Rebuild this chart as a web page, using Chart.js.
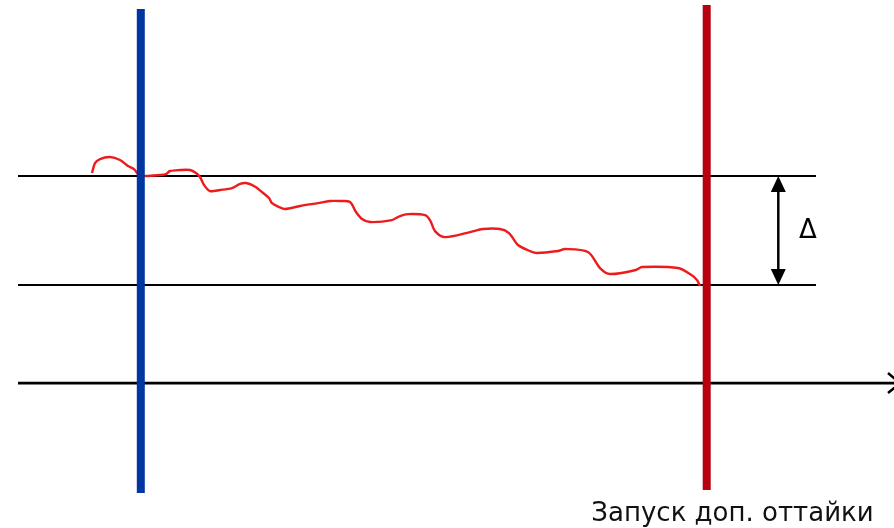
<!DOCTYPE html>
<html>
<head>
<meta charset="utf-8">
<script src="https://cdn.jsdelivr.net/npm/chart.js@4"></script>
<style>
  html, body { margin: 0; padding: 0; background: #fff; }
  #wrap { width: 894px; height: 528px; }
</style>
</head>
<body>
<div id="wrap"><canvas id="chart" width="894" height="528"></canvas></div>
<script>
// time (x) and temperature-like value (y)
const curveTime = [9.2, 9.5, 10.0, 11.0, 12.0, 12.8, 13.4, 13.8, 14.5, 16.0, 16.6, 17.0, 18.0, 19.0, 19.6, 20.0,
  20.4, 21.0, 22.0, 23.2, 24.0, 24.6, 25.4, 26.2, 26.9, 27.2, 27.9, 28.5, 30.0, 31.8, 33.0, 34.0, 35.0, 35.6,
  36.2, 37.0, 39.2, 40.0, 40.8, 42.5, 43.0, 43.5, 44.5, 47.0, 48.3, 50.0, 50.9, 51.8, 53.0, 53.7, 55.8, 56.5,
  58.8, 60.0, 61.0, 63.6, 64.2, 67.8, 69.0, 69.7, 70.0];
const curveValue = [19.27, 20.18, 20.55, 20.73, 20.46, 19.91, 19.63, 19.17, 18.99, 19.08, 19.17, 19.45, 19.54, 19.54, 19.27, 18.90,
  18.17, 17.61, 17.71, 17.89, 18.26, 18.35, 18.07, 17.52, 16.97, 16.51, 16.15, 15.96, 16.24, 16.51, 16.70, 16.70, 16.61, 15.69,
  15.05, 14.77, 14.95, 15.32, 15.50, 15.41, 14.95, 13.94, 13.39, 13.85, 14.13, 14.13, 13.76, 12.66, 12.11, 11.93, 12.11, 12.29,
  12.02, 10.55, 10.00, 10.37, 10.64, 10.55, 10.00, 9.45, 8.90];

const upperLevel = 19;
const lowerLevel = 9;
const levelSpan = [1.8, 81.6];
const axisSpan = [1.8, 89.4];
const startTime = 14.08;      // blue marker
const startSpan = [34.31, -10.09];
const defrostTime = 70.67;    // red marker
const defrostSpan = [34.68, -9.82];
const deltaLabel = 'Δ';
const defrostLabel = 'Запуск доп. оттайки';

const curvePoints = curveTime.map((t, i) => ({ x: t, y: curveValue[i] }));
const seg = (xs, ys) => [{ x: xs[0], y: ys[0] }, { x: xs[1], y: ys[1] }];

const annotations = {
  id: 'annotations',
  afterDatasetsDraw(chart) {
    const ctx = chart.ctx;
    const xs = chart.scales.x, ys = chart.scales.y;
    ctx.save();
    // axis arrow head (partly off canvas)
    const ax = xs.getPixelForValue(axisSpan[1]);
    const ay = ys.getPixelForValue(0);
    ctx.strokeStyle = '#000';
    ctx.lineWidth = 2.5;
    ctx.beginPath();
    ctx.moveTo(ax - 6, ay - 10);
    ctx.lineTo(ax + 6, ay);
    ctx.lineTo(ax - 6, ay + 10);
    ctx.stroke();

    // delta arrow between the two levels
    const dx = xs.getPixelForValue(77.83);
    const top = ys.getPixelForValue(upperLevel);
    const bot = ys.getPixelForValue(lowerLevel);
    ctx.lineWidth = 2.5;
    ctx.beginPath();
    ctx.moveTo(dx, top + 12);
    ctx.lineTo(dx, bot - 12);
    ctx.stroke();
    ctx.fillStyle = '#000';
    ctx.beginPath();
    ctx.moveTo(dx, top);
    ctx.lineTo(dx - 7.5, top + 16);
    ctx.lineTo(dx + 7.5, top + 16);
    ctx.closePath();
    ctx.fill();
    ctx.beginPath();
    ctx.moveTo(dx, bot);
    ctx.lineTo(dx - 7.5, bot - 16);
    ctx.lineTo(dx + 7.5, bot - 16);
    ctx.closePath();
    ctx.fill();

    ctx.font = '26px "DejaVu Sans", Verdana, sans-serif';
    ctx.textAlign = 'center';
    ctx.textBaseline = 'alphabetic';
    ctx.fillText(deltaLabel, xs.getPixelForValue(80.8), ys.getPixelForValue(13.3));

    ctx.fillStyle = '#111';
    ctx.fillText(defrostLabel, xs.getPixelForValue(73.25), ys.getPixelForValue(-12.66));
    ctx.restore();
  }
};

new Chart(document.getElementById('chart').getContext('2d'), {
  type: 'scatter',
  data: {
    datasets: [
      { data: seg([defrostTime, defrostTime], defrostSpan), borderColor: '#b8000e', borderWidth: 8, order: 1 },
      { data: seg([startTime, startTime], startSpan), borderColor: '#0036a2', borderWidth: 8, order: 2 },
      { data: curvePoints, borderColor: '#ec1c1c', borderWidth: 2.4, tension: 0.3, order: 3 },
      { data: seg(levelSpan, [upperLevel, upperLevel]), borderColor: '#000', borderWidth: 2, order: 4 },
      { data: seg(levelSpan, [lowerLevel, lowerLevel]), borderColor: '#000', borderWidth: 2, order: 5 },
      { data: seg(axisSpan, [0, 0]), borderColor: '#000', borderWidth: 2.8, order: 6 }
    ].map(d => Object.assign({ showLine: true, pointRadius: 0, fill: false, borderCapStyle: 'butt' }, d))
  },
  options: {
    responsive: false,
    animation: false,
    devicePixelRatio: 1,
    layout: { padding: 0 },
    plugins: { legend: { display: false }, tooltip: { enabled: false } },
    scales: {
      x: { type: 'linear', min: 0, max: 89.4, display: false },
      y: { type: 'linear', min: -13.30, max: 35.14, display: false }
    }
  },
  plugins: [annotations]
});
</script>
</body>
</html>
